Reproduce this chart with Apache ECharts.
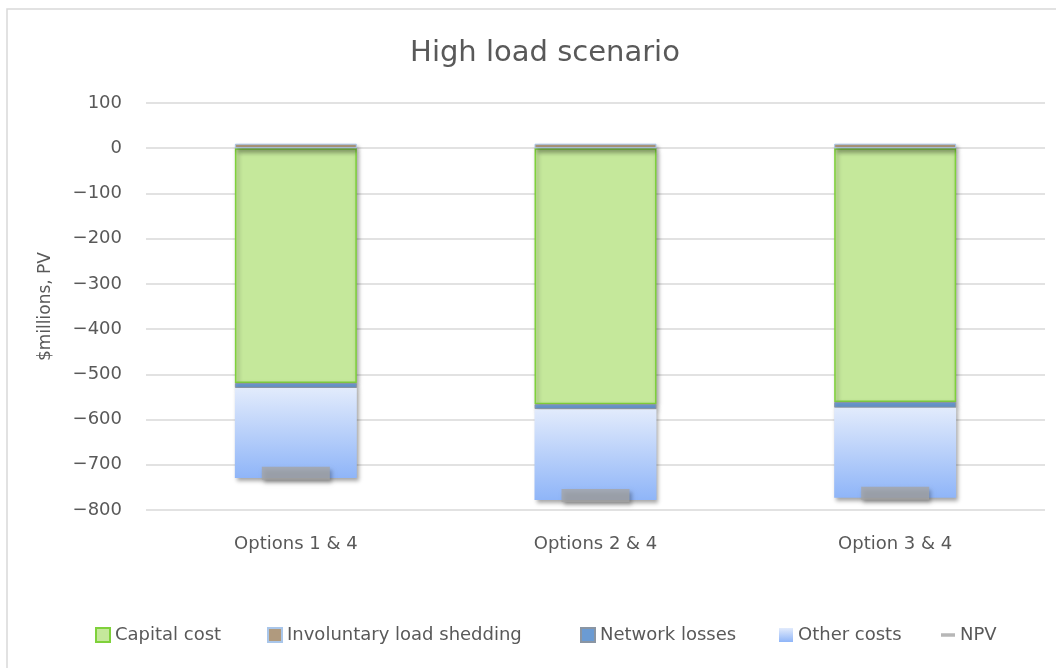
<!DOCTYPE html>
<html>
<head>
<meta charset="utf-8">
<script src="https://cdn.jsdelivr.net/npm/echarts@6/dist/echarts.min.js"></script>
<style>
  html, body { margin: 0; padding: 0; background: #fff; }
  #chart { width: 1056px; height: 668px; }
</style>
</head>
<body>
<div id="chart"></div>
<script>
const categories = ['Options 1 & 4', 'Options 2 & 4', 'Option 3 & 4']
const capitalCost = [-519, -566, -561]
const loadShedding = [10, 10, 10]
const networkLosses = [-11, -11, -13]
const otherCosts = [-199, -201, -199]
const npv = [-719, -768, -763]

const legendNames = ['Capital cost', 'Involuntary load shedding', 'Network losses', 'Other costs', 'NPV']
const legendLeft = [90, 262, 575, 774, 936]

const font = '"DejaVu Sans", "Noto Sans", sans-serif'
const textColor = '#595959'
const shadow = { shadowColor: 'rgba(0,0,0,0.35)', shadowBlur: 4, shadowOffsetX: 2, shadowOffsetY: 3 }

// one legend per item so each entry sits where the reference has it
const legends = legendNames.map((name, i) => ({
  left: legendLeft[i],
  top: 621,
  itemWidth: 14,
  itemHeight: 14,
  itemGap: 6,
  textStyle: { fontFamily: font, fontSize: 18, color: textColor },
  data: [{ name, icon: name === 'NPV' ? 'path://M3,6 L9,6 L9,7.5 L3,7.5 Z' : 'rect' }]
}))

const chart = echarts.init(document.getElementById('chart'))
chart.setOption({
  animation: false,
  textStyle: { fontFamily: font },
  graphic: [{
    type: 'rect',
    shape: { x: 7, y: 9, width: 1100, height: 700 },
    style: { fill: 'none', stroke: '#d9d9d9', lineWidth: 1.5 },
    silent: true
  }],
  title: {
    text: 'High load scenario',
    left: 540,
    top: 34,
    textAlign: 'center',
    textStyle: { fontFamily: font, fontSize: 29, fontWeight: 'normal', color: textColor }
  },
  legend: legends,
  grid: { left: 146, right: 11, top: 103, bottom: 158 },
  xAxis: {
    type: 'category',
    data: categories,
    axisLine: { show: false },
    axisTick: { show: false },
    axisLabel: { fontSize: 18, color: textColor, margin: 25 }
  },
  yAxis: {
    type: 'value',
    min: -800,
    max: 100,
    interval: 100,
    name: '$millions, PV',
    nameLocation: 'middle',
    nameRotate: 90,
    nameGap: 92,
    nameTextStyle: { fontSize: 17, color: textColor },
    axisLine: { show: false },
    axisTick: { show: false },
    axisLabel: {
      fontSize: 18,
      color: textColor,
      margin: 24,
      formatter: v => String(v).replace('-', '\u2212')
    },
    splitLine: { lineStyle: { color: '#d9d9d9', width: 1.5 } }
  },
  series: [
    {
      name: 'Capital cost',
      type: 'bar',
      stack: 'total',
      barWidth: '40.7%',
      data: capitalCost,
      itemStyle: Object.assign({ color: '#c5e89b', borderColor: '#7fd13b', borderWidth: 1.5 }, shadow)
    },
    {
      name: 'Involuntary load shedding',
      type: 'bar',
      stack: 'total',
      data: loadShedding,
      itemStyle: Object.assign({ color: '#b09a7e', borderColor: '#a9c6ea', borderWidth: 1 }, shadow)
    },
    {
      name: 'Network losses',
      type: 'bar',
      stack: 'total',
      data: networkLosses,
      itemStyle: Object.assign({ color: '#6b9bd3', borderColor: '#8a95a3', borderWidth: 1 }, shadow)
    },
    {
      name: 'Other costs',
      type: 'bar',
      stack: 'total',
      data: otherCosts,
      itemStyle: Object.assign({
        color: new echarts.graphic.LinearGradient(0, 0, 0, 1, [
          { offset: 0, color: '#e2ebfc' },
          { offset: 1, color: '#8fb5f8' }
        ])
      }, shadow)
    },
    {
      name: 'NPV',
      type: 'scatter',
      data: npv,
      symbol: 'rect',
      symbolSize: [68, 13],
      z: 5,
      itemStyle: Object.assign({ color: '#a5a5a5' }, shadow)
    }
  ]
})
</script>
</body>
</html>
